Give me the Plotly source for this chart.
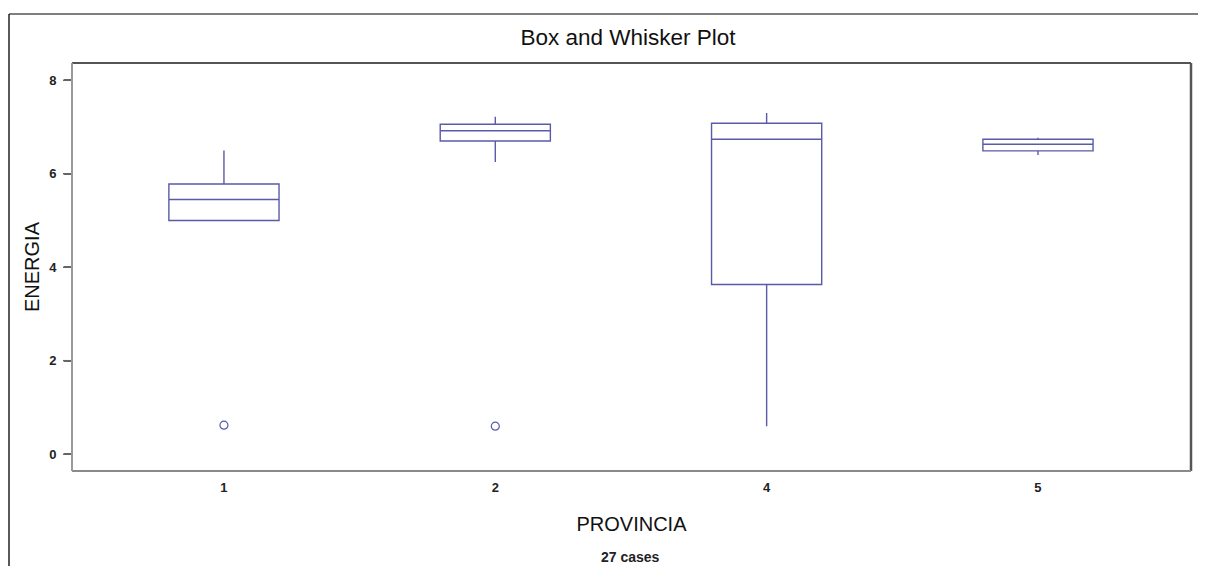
import plotly.graph_objects as go

provincia = ["1", "2", "4", "5"]
lower_whisker = [5.00, 6.25, 0.60, 6.40]
q1_vals = [5.00, 6.70, 3.63, 6.49]
median_vals = [5.45, 6.92, 6.74, 6.63]
q3_vals = [5.78, 7.06, 7.08, 6.74]
upper_whisker = [6.50, 7.22, 7.30, 6.77]

outlier_prov = ["1", "2"]
outlier_vals = [0.62, 0.60]

y_ticks = [0, 2, 4, 6, 8]

color = "#5a5aaa"
font_family = "Liberation Sans, Arial, sans-serif"
Y_RANGE = [-0.36, 8.37]

fig = go.Figure()
fig.add_trace(go.Box(
    x=provincia,
    q1=q1_vals, median=median_vals, q3=q3_vals,
    lowerfence=lower_whisker, upperfence=upper_whisker,
    width=0.406,
    line=dict(color=color, width=1.4),
    fillcolor="rgba(255,255,255,0)",
    whiskerwidth=0,
    boxpoints=False,
    showlegend=False,
))
fig.add_trace(go.Scatter(
    x=outlier_prov, y=outlier_vals, mode="markers",
    marker=dict(symbol="circle-open", size=8, color=color, line=dict(width=1.2)),
    showlegend=False,
))

# page body has an 8px margin, so figure coordinates = page coordinates - 8
OFF = 8
W, H = 1206 - OFF, 566 - OFF
L, R, T, B = 72 - OFF, 1191 - OFF, 63 - OFF, 471 - OFF


def px(x):
    return (x - OFF - L) / (R - L)


def py(y):
    return (B - (y - OFF)) / (B - T)


shapes = [
    dict(type="line", xref="paper", yref="paper", x0=0, x1=1, y0=1, y1=1,
         line=dict(color="#555555", width=2)),
    dict(type="line", xref="paper", yref="paper", x0=1, x1=1, y0=0, y1=1,
         line=dict(color="#555555", width=2.5)),
    dict(type="line", xref="paper", yref="paper", x0=0, x1=1, y0=0, y1=0,
         line=dict(color="#8a8a8a", width=2)),
    dict(type="line", xref="paper", yref="paper", x0=0, x1=0, y0=0, y1=1,
         line=dict(color="#9a9a9a", width=2)),
    dict(type="line", xref="paper", yref="paper", x0=px(9), x1=px(1212), y0=py(14), y1=py(14),
         line=dict(color="#555555", width=1.5)),
    dict(type="line", xref="paper", yref="paper", x0=px(9), x1=px(9), y0=py(14), y1=py(580),
         line=dict(color="#222222", width=1.5)),
]
# short outside tick marks on the y axis (paper coords derived from the axis range,
# since axis-referenced shapes are clipped to the plot area)
for v in y_ticks:
    yp = (v - Y_RANGE[0]) / (Y_RANGE[1] - Y_RANGE[0])
    shapes.append(dict(type="line", xref="paper", yref="paper", x0=px(63), x1=px(70),
                       y0=yp, y1=yp, line=dict(color="#666666", width=1.5)))

fig.update_layout(
    width=W, height=H, autosize=False,
    margin=dict(l=L, r=W - R, t=T, b=H - B),
    paper_bgcolor="white", plot_bgcolor="white",
    font=dict(family=font_family, color="#111111"),
    title=dict(text="Box and Whisker Plot", xref="paper", x=px(628), xanchor="center",
               y=1 - (37 - OFF) / H, yanchor="middle", font=dict(size=22.5, color="#111111")),
    xaxis=dict(type="category", range=[-0.56, 3.564], showgrid=False, zeroline=False,
               showline=False, ticks="", ticklabelstandoff=7,
               tickfont=dict(size=13, color="#222222", weight="bold"),
               title=dict(text="PROVINCIA", font=dict(size=20, color="#111111"), standoff=22)),
    yaxis=dict(range=Y_RANGE, tickvals=y_ticks, showgrid=False, zeroline=False,
               showline=False, ticks="outside", ticklen=7, tickcolor="#666666", tickwidth=1.5,
               ticklabelstandoff=5,
               tickfont=dict(size=13, color="#222222", weight="bold"),
               title=dict(text="ENERGIA", font=dict(size=20, color="#111111"), standoff=4)),
    shapes=shapes,
    annotations=[dict(text="<b>27 cases</b>", xref="paper", yref="paper",
                      x=px(630), y=py(557), xanchor="center", yanchor="middle",
                      showarrow=False, font=dict(size=14, color="#222222"))],
)

fig.write_html("out.html")
